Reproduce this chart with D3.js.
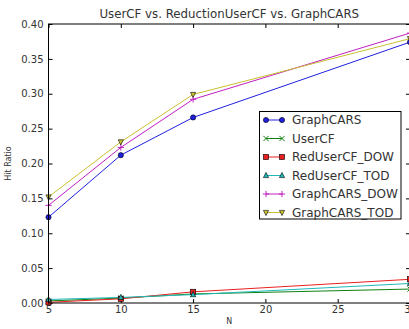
<!DOCTYPE html>
<html>
<head>
<meta charset="utf-8">
<script src="https://cdn.jsdelivr.net/npm/d3@7"></script>
<style>
  body { margin: 0; background: #fff; }
  svg { display: block; font-family: "DejaVu Sans", sans-serif; }
</style>
</head>
<body>
<svg></svg>
<script>
// Data
const nValues = [5, 10, 15, 30];
const seriesNames = ["GraphCARS", "UserCF", "RedUserCF_DOW", "RedUserCF_TOD", "GraphCARS_DOW", "GraphCARS_TOD"];
const graphCARS = [0.123, 0.212, 0.266, 0.374];
const userCF = [0.003, 0.007, 0.013, 0.020];
const redUserCFDow = [0.001, 0.006, 0.016, 0.034];
const redUserCFTod = [0.005, 0.008, 0.012, 0.028];
const graphCARSDow = [0.140, 0.223, 0.292, 0.387];
const graphCARSTod = [0.152, 0.231, 0.299, 0.379];
const xTicks = [5, 10, 15, 20, 25, 30];
const yTicks = [0, 0.05, 0.10, 0.15, 0.20, 0.25, 0.30, 0.35, 0.40];

const allValues = [graphCARS, userCF, redUserCFDow, redUserCFTod, graphCARSDow, graphCARSTod];
const colors = ["#2020e0", "#108010", "#e82020", "#20b8b8", "#c020c0", "#c8c030"];
const markers = ["circle", "x", "square", "triUp", "plus", "triDown"];

const w = 409;
const h = 329;
const plotLeft = 48.5, plotRight = 410, plotTop = 24, plotBottom = 303;

const svg = d3.select("svg").attr("width", w).attr("height", h);

const x = d3.scaleLinear().domain([5, 30]).range([plotLeft, plotRight]);
const y = d3.scaleLinear().domain([0, 0.4]).range([plotBottom, plotTop]);

//Axes (ticks inside, on all four sides)
const fmt = d3.format(".2f");
svg.append("g")
   .attr("transform", `translate(0, ${plotBottom})`)
   .call(d3.axisBottom(x).tickValues(xTicks).tickSizeInner(-4).tickSizeOuter(0).tickPadding(3))
   .call(g => g.select(".domain").remove());
svg.append("g")
   .attr("transform", `translate(0, ${plotTop})`)
   .call(d3.axisTop(x).tickValues(xTicks).tickSizeInner(-4).tickSizeOuter(0).tickFormat(""))
   .call(g => g.select(".domain").remove());
svg.append("g")
   .attr("transform", `translate(${plotLeft}, 0)`)
   .call(d3.axisLeft(y).tickValues(yTicks).tickFormat(fmt).tickSizeInner(-4).tickSizeOuter(0).tickPadding(5))
   .call(g => g.select(".domain").remove());
svg.append("g")
   .attr("transform", `translate(${plotRight}, 0)`)
   .call(d3.axisRight(y).tickValues(yTicks).tickSizeInner(-4).tickSizeOuter(0).tickFormat(""))
   .call(g => g.select(".domain").remove());

svg.selectAll(".tick line").attr("stroke", "#000");
svg.selectAll(".tick text").attr("fill", "#333").style("font-size", "10px").style("font-family", "DejaVu Sans");

//Plot lines
const line = d3.line().x((d, i) => x(nValues[i])).y(d => y(d));

function drawMarker(g, type, cx, cy, color) {
  const s = 2.6;
  if (type === "circle") {
    g.append("circle").attr("cx", cx).attr("cy", cy).attr("r", s)
     .attr("fill", color).attr("stroke", "#000").attr("stroke-width", 0.6);
  } else if (type === "square") {
    g.append("rect").attr("x", cx - s).attr("y", cy - s).attr("width", 2 * s).attr("height", 2 * s)
     .attr("fill", color).attr("stroke", "#000").attr("stroke-width", 0.6);
  } else if (type === "triUp") {
    g.append("path").attr("d", `M${cx},${cy - s - 0.5}L${cx + s},${cy + s - 0.5}L${cx - s},${cy + s - 0.5}Z`)
     .attr("fill", color).attr("stroke", "#000").attr("stroke-width", 0.6);
  } else if (type === "triDown") {
    g.append("path").attr("d", `M${cx},${cy + s + 0.5}L${cx + s},${cy - s + 0.5}L${cx - s},${cy - s + 0.5}Z`)
     .attr("fill", color).attr("stroke", "#000").attr("stroke-width", 0.6);
  } else if (type === "x") {
    g.append("path").attr("d", `M${cx - s},${cy - s}L${cx + s},${cy + s}M${cx - s},${cy + s}L${cx + s},${cy - s}`)
     .attr("stroke", color).attr("stroke-width", 1);
  } else if (type === "plus") {
    g.append("path").attr("d", `M${cx - s - 0.5},${cy}L${cx + s + 0.5},${cy}M${cx},${cy - s - 0.5}L${cx},${cy + s + 0.5}`)
     .attr("stroke", color).attr("stroke-width", 1);
  }
}

const plot = svg.append("g");
allValues.forEach((vals, k) => {
  plot.append("path")
      .datum(vals)
      .attr("d", line)
      .attr("fill", "none")
      .attr("stroke", colors[k])
      .attr("stroke-width", 1);
});
allValues.forEach((vals, k) => {
  vals.forEach((v, i) => drawMarker(plot, markers[k], x(nValues[i]), y(v), colors[k]));
});

//Frame
svg.append("rect")
   .attr("x", plotLeft).attr("y", plotTop)
   .attr("width", plotRight - plotLeft).attr("height", plotBottom - plotTop)
   .attr("fill", "none").attr("stroke", "#000").attr("stroke-width", 1);

//Labels
svg.append("text")
   .attr("x", (plotLeft + plotRight) / 2).attr("y", 18)
   .attr("text-anchor", "middle")
   .style("font-size", "11.8px").attr("fill", "#333")
   .text("UserCF vs. ReductionUserCF vs. GraphCARS");

svg.append("text")
   .attr("x", (plotLeft + plotRight) / 2).attr("y", 324)
   .attr("text-anchor", "middle")
   .style("font-size", "8px").attr("fill", "#333")
   .text("N");

svg.append("text")
   .attr("transform", `translate(11, ${(plotTop + plotBottom) / 2}) rotate(-90)`)
   .attr("text-anchor", "middle")
   .style("font-size", "8px").attr("fill", "#333")
   .text("Hit Ratio");

//Legend
const legend = svg.append("g");
legend.append("rect")
      .attr("x", 259.5).attr("y", 111.5).attr("width", 141.5).attr("height", 107.5)
      .attr("fill", "#fff").attr("stroke", "#000").attr("stroke-width", 1);

seriesNames.forEach((name, k) => {
  const ly = 120 + k * 18.5;
  legend.append("line")
        .attr("x1", 266).attr("x2", 282).attr("y1", ly).attr("y2", ly)
        .attr("stroke", colors[k]).attr("stroke-width", 1);
  drawMarker(legend, markers[k], 266, ly, colors[k]);
  drawMarker(legend, markers[k], 282, ly, colors[k]);
  legend.append("text")
        .attr("x", 292).attr("y", ly + 4.3)
        .style("font-size", "12px").attr("fill", "#333")
        .text(name);
});
</script>
</body>
</html>
